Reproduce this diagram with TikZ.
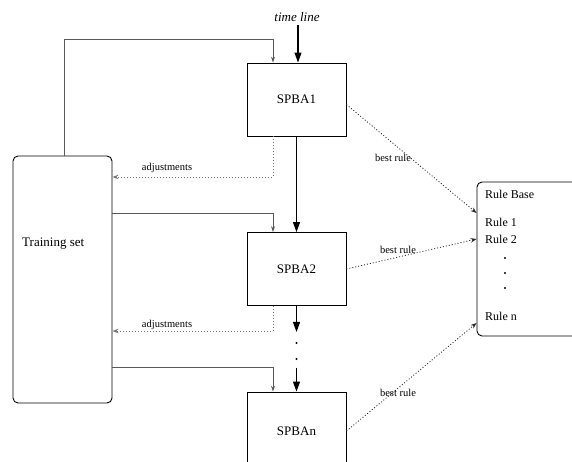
\documentclass[tikz,border=0pt]{standalone}
\usepackage{fontspec}
\setmainfont{Liberation Serif}
\usetikzlibrary{arrows.meta,calc}
\tikzset{
  procbox/.style={draw=black,line width=0.9pt,minimum width=99pt,minimum height=73pt,inner sep=0pt,font=\fontsize{13}{15}\selectfont},
  roundbox/.style={draw=black,line width=0.9pt,rounded corners=5pt,inner sep=0pt},
  mainarrow/.style={line width=1.1pt,-{Triangle[length=10pt,width=7pt]}},
  feedarrow/.style={draw=black!65,line width=0.9pt,-{Stealth[length=6pt,width=4pt]}},
  adjarrow/.style={draw=black!55,line width=0.9pt,dash pattern=on 1pt off 2pt,-{Stealth[open,length=6pt,width=4.5pt]}},
  rulearrow/.style={draw=black!85,line width=0.8pt,dash pattern=on 1pt off 2pt,-{Stealth[open,length=6pt,width=4.5pt]}},
  smalllabel/.style={font=\fontsize{10.5}{12}\selectfont,inner sep=0pt},
  rbtext/.style={font=\fontsize{12}{14}\selectfont,anchor=west,inner sep=0pt},
  dotmark/.style={circle,fill=black,inner sep=0pt,minimum size=2.2pt}
}
\begin{document}
\begin{tikzpicture}[x=1pt,y=-1pt]
\clip (0,0) rectangle (572,461);
\fill[white] (0,0) rectangle (572,461);

% boxes
\node[procbox] (s1) at (296.5,99.5) {SPBA1};
\node[procbox] (s2) at (296.5,269) {SPBA2};
\node[procbox,minimum height=78pt] (s3) at (296.5,431) {SPBAn};
\node[roundbox,minimum width=99pt,minimum height=247pt] (ts) at (62.5,279.5) {};
\node[font=\fontsize{13}{15}\selectfont,anchor=west,inner sep=0pt] (tslabel) at (22,244) {Training set};
\node[roundbox,minimum width=120pt,minimum height=154pt] (rb) at (537,259) {};

% rule base contents
\node[rbtext] (rbt) at (485,194) {Rule Base};
\node[rbtext] (r1) at (485,222) {Rule 1};
\node[rbtext] (r2) at (485,239) {Rule 2};
\node[dotmark] (rd1) at (505,258) {};
\node[dotmark] (rd2) at (505,273) {};
\node[dotmark] (rd3) at (505,288) {};
\node[rbtext] (rn) at (485,316) {Rule n};

% time line
\node[font=\itshape\fontsize{13}{15}\selectfont,inner sep=0pt] (time) at (297,17) {time line};
\coordinate (tstart) at (298,25);
\coordinate (tend) at (298,0 |- s1.north);
\draw[mainarrow] (tstart) -- (tstart |- s1.north);

% main flow
\draw[mainarrow] (s1) -- (s2);
\coordinate (c1) at ($(s2.south)+(0,26)$);
\draw[mainarrow] (s2.south) -- (c1);
\node[dotmark] (fd1) at ($(s2.south)+(0,37)$) {};
\node[dotmark] (fd2) at ($(s2.south)+(0,53)$) {};
\coordinate (c2) at ($(s2.south)+(0,62)$);
\draw[mainarrow] (c2) -- (s3.north);

% training set feeds
\coordinate (tsn) at ($(ts.north)+(1.5,0)$);
\coordinate (f1) at ($(s1.north)+(-23.5,0)$);
\coordinate (f2) at ($(s2.north)+(-23.5,0)$);
\coordinate (f3) at ($(s3.north)+(-23.5,0)$);
\draw[feedarrow] (tsn) -- (tsn |- 0,39) -| (f1);
\draw[feedarrow] (ts.east |- 0,213) -| (f2);
\draw[feedarrow] (ts.east |- 0,367) -| (f3);

% adjustments
\coordinate (a1) at ($(s1.south)+(-23.5,0)$);
\coordinate (a2) at ($(s2.south)+(-23.5,0)$);
\draw[adjarrow] (a1) |- (ts.east |- 0,177);
\draw[adjarrow] (a2) |- (ts.east |- 0,331);
\node[smalllabel] (adj1) at (167,168) {adjustments};
\node[smalllabel] (adj2) at (167,325) {adjustments};

% best rules
\coordinate (b1) at ($(s1.east)+(0,5)$);
\draw[rulearrow] (b1) -- (rb.west |- 0,213);
\draw[rulearrow] (s2.east) -- (rb.west |- 0,239);
\draw[rulearrow] (s3.east) -- (rb.west |- 0,323);
\node[smalllabel] (br1) at (393,158) {best rule};
\node[smalllabel] (br2) at (398,250) {best rule};
\node[smalllabel] (br3) at (398,393) {best rule};
\end{tikzpicture}
\end{document}
